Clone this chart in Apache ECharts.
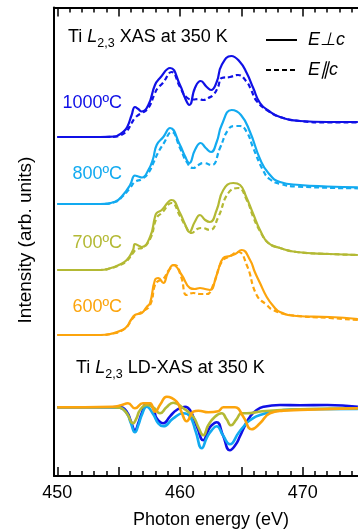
<!DOCTYPE html>
<html><head><meta charset="utf-8">
<script src="https://cdn.jsdelivr.net/npm/echarts@6/dist/echarts.min.js"></script>
<style>html,body{margin:0;padding:0;background:#fff}#c{width:358px;height:531px}</style>
</head><body><div id="c"></div>
<script>
// ---- data (photon energy in eV, intensity in arb. units relative to each pre-edge baseline) ----
const majorTicks = [450, 455, 460, 465, 470];
const tickLabels = [450, 460, 470];
const minorTicks = [450,451,452,453,454,455,456,457,458,459,460,461,462,463,464,465,466,467,468,469,470,471,472,473,474];
const temperatures = ['1000ºC', '800ºC', '700ºC', '600ºC'];
const colors = ['#1010e6', '#12aaf0', '#b3b934', '#fca40c'];
const offsets = [33.9, 27.2, 20.6, 14.1];
const ldOffset = 6.87;

const xas1000Perp = [[450,0],[453.5,0],[454.7,0.05],[455.0,0.2],[455.4,0.55],[455.7,1.0],[456.06,2.2],[456.33,3.0],[456.6,2.8],[456.88,2.55],[457.42,3.2],[457.96,5.2],[458.37,5.9],[459.19,6.9],[460.0,5.2],[460.41,3.9],[460.76,3.2],[461.22,4.9],[461.69,5.6],[462.18,5.0],[462.53,4.7],[462.99,5.5],[463.4,7.2],[464.18,8.1],[464.89,7.5],[465.44,6.4],[465.97,4.9],[466.52,3.4],[467.25,2.6],[468.15,2.0],[469.78,1.6],[472,1.5],[474.5,1.5]];
const xas1000Par = [[450,0],[453.5,0],[454.7,0.03],[455.1,0.15],[455.66,0.6],[456.06,1.4],[456.33,1.9],[456.6,2.2],[456.9,2.4],[457.42,2.9],[457.96,4.4],[458.2,4.9],[458.6,5.4],[459.32,6.5],[460.0,5.0],[460.55,3.95],[461.08,3.75],[461.5,3.8],[461.9,3.7],[462.3,3.9],[462.71,4.2],[463.1,5.0],[463.4,5.9],[464.07,6.0],[464.73,6.2],[465.44,5.5],[465.8,4.7],[466.25,3.6],[467.2,2.6],[468.15,2.0],[469.78,1.6],[472,1.45],[474.5,1.45]];
const xas800Perp = [[450,0],[453.5,0],[454.7,0.23],[455.35,0.9],[455.93,1.9],[456.33,2.85],[456.6,2.75],[456.9,2.65],[457.42,3.4],[457.8,4.5],[458.1,5.9],[458.64,6.7],[459.19,7.6],[460.0,5.9],[460.4,4.8],[460.76,4.1],[461.22,5.4],[461.69,6.1],[462.1,5.6],[462.53,5.2],[462.99,6.2],[463.4,7.9],[464.21,9.4],[464.97,8.9],[465.71,7.2],[466.52,4.5],[467.2,3.1],[468.15,2.2],[469.78,1.9],[472,1.75],[474.5,1.67]];
const xas800Par = [[450,0],[453.5,0],[454.7,0.2],[455.35,0.8],[455.93,1.6],[456.33,2.2],[456.9,2.5],[457.42,3.1],[457.9,4.3],[458.2,5.1],[458.64,6.0],[459.32,7.2],[460.0,5.6],[460.55,4.2],[461.08,3.6],[461.5,3.9],[461.9,4.1],[462.58,3.9],[463.26,5.6],[463.91,7.4],[464.4,7.8],[464.9,7.8],[465.44,7.2],[465.97,5.6],[466.76,3.4],[467.3,2.5],[468.2,2.0],[469.5,1.75],[474.5,1.57]];
const xas700Perp = [[450,0],[453.5,0],[454.3,0.17],[455.0,0.5],[455.66,1.0],[456.17,2.0],[456.33,2.6],[456.6,2.45],[456.88,2.3],[457.56,3.3],[457.96,5.3],[458.1,5.7],[458.51,6.0],[459.32,7.0],[460.0,5.7],[460.4,4.6],[460.76,3.8],[461.2,4.8],[461.63,5.5],[462.05,5.0],[462.44,4.8],[462.99,6.0],[463.53,8.0],[464.34,8.7],[464.9,8.5],[465.4,7.3],[465.97,5.6],[466.52,4.0],[467.2,2.7],[468.15,2.2],[469.51,1.8],[472.2,1.6],[474.5,1.5]];
const xas700Par = [[450,0],[453.5,0],[454.3,0.15],[455.0,0.45],[455.66,0.9],[456.17,1.7],[456.5,2.1],[456.9,2.2],[457.56,3.1],[458.1,5.2],[458.51,5.7],[459.32,6.7],[460.0,5.4],[460.5,4.3],[460.95,3.7],[461.4,4.1],[461.77,4.2],[462.44,4.0],[463.12,5.3],[463.94,7.7],[464.75,8.2],[465.44,7.0],[465.97,5.3],[466.52,3.9],[467.2,2.7],[468.15,2.2],[469.51,1.8],[472.2,1.6],[474.5,1.5]];
const xas600Perp = [[450,0],[453.5,0],[454.54,0.17],[455.2,0.45],[455.66,0.83],[456.0,1.5],[456.33,2.0],[456.88,2.2],[457.29,2.8],[457.56,3.2],[457.96,5.5],[458.23,5.7],[458.64,5.2],[459.0,6.2],[459.45,7.0],[460.14,6.0],[460.81,4.7],[461.2,4.6],[461.63,4.7],[462.05,4.6],[462.44,4.5],[462.99,6.0],[463.53,7.7],[464.07,7.9],[464.5,8.1],[465.03,8.5],[465.71,7.5],[466.1,6.3],[466.52,5.2],[467.07,3.8],[467.6,2.9],[468.15,2.3],[469.51,1.9],[472.2,1.8],[474.5,1.6]];
const xas600Par = [[450,0],[453.5,0],[454.54,0.15],[455.2,0.4],[455.66,0.8],[456.0,1.4],[456.33,1.9],[456.88,2.3],[457.56,3.0],[457.96,5.0],[458.23,5.4],[458.64,5.6],[459.1,6.5],[459.59,7.0],[460.1,5.8],[460.55,4.0],[461.08,4.2],[461.6,4.1],[462.18,4.1],[462.71,5.0],[463.4,7.3],[464.1,7.9],[464.75,8.3],[465.44,7.0],[466.25,4.0],[467.07,3.0],[467.58,2.5],[468.97,2.0],[472.2,1.7],[474.5,1.5]];

const ld1000 = [[450,0],[454.5,0],[455.11,0.03],[455.66,-0.44],[456.0,-1.4],[456.33,-2.3],[456.6,-1.6],[456.88,-0.6],[457.29,0.4],[457.82,-0.1],[458.1,-1.1],[458.64,-1.6],[459.19,-0.9],[459.73,-0.27],[460.41,0.06],[460.81,-0.27],[461.4,-2.0],[461.9,-3.3],[462.3,-2.3],[462.58,-1.8],[462.99,-1.5],[463.5,-2.8],[464.07,-4.3],[464.5,-3.8],[464.89,-2.9],[465.3,-1.8],[465.71,-0.94],[466.25,-0.27],[466.8,0.05],[468.15,0.23],[469.78,0.2],[472,0.23],[474.5,0.06]];
const ld800 = [[450,0],[454.5,0],[455.11,-0.05],[455.66,-0.6],[456.0,-1.6],[456.33,-2.5],[456.6,-1.8],[456.88,-0.8],[457.29,0.06],[457.82,-0.7],[458.23,-1.6],[458.64,-1.9],[459.45,-1.1],[460.27,-0.6],[460.81,-0.9],[461.3,-2.5],[461.77,-4.1],[462.2,-3.0],[462.58,-2.3],[462.99,-1.9],[463.5,-2.8],[464.07,-3.7],[464.75,-2.6],[465.2,-1.9],[465.71,-1.3],[466.52,-0.77],[468.42,-0.27],[469.78,-0.2],[474.5,-0.17]];
const ld700 = [[450,0],[454.5,0],[455.11,-0.05],[455.66,-0.6],[456.17,-1.6],[456.45,-1.1],[456.75,-0.27],[457.29,0.23],[457.82,0.0],[458.37,-0.6],[458.9,0.0],[459.45,0.46],[460.27,-0.1],[461.08,-0.94],[461.5,-2.0],[461.9,-2.8],[462.3,-1.8],[462.85,-0.94],[463.4,-0.6],[463.8,-1.2],[464.16,-1.8],[464.6,-1.2],[465.03,-0.6],[465.44,-0.6],[466.7,-0.4],[469.78,-0.2],[474.5,-0.1]];
const ld600 = [[450,0],[454.5,0.06],[455.2,0.2],[455.76,0.4],[456.33,-0.1],[456.98,0.4],[457.56,0.4],[457.96,-0.44],[458.4,0.3],[458.92,1.06],[459.73,0.56],[460.1,-0.4],[460.55,-1.4],[461.08,-0.44],[461.5,-0.34],[462.31,-0.5],[463.12,-0.4],[463.53,0.0],[464.48,0.0],[465.16,-0.94],[465.84,-2.2],[466.52,-1.6],[467.33,-0.6],[468.42,-0.34],[469.78,-0.27],[474.5,-0.1]];

const perpSets = [xas1000Perp, xas800Perp, xas700Perp, xas600Perp];
const parSets = [xas1000Par, xas800Par, xas700Par, xas600Par];
const ldSets = [ld1000, ld800, ld700, ld600];

// ---- chart ----
const FONT = '"Liberation Sans", Arial, Helvetica, sans-serif';
const X_MIN = 449.73, X_MAX = 474.51;
const shift = (arr, off) => arr.map(p => [p[0], p[1] + off]);
const SMOOTH = 0.5;

const series = [];
for (let i = 0; i < 4; i++) {
  series.push({ type: 'line', name: temperatures[i] + ' E⊥c', data: shift(perpSets[i], offsets[i]),
    showSymbol: false, symbol: 'none', smooth: SMOOTH,
    lineStyle: { color: colors[i], width: 2.2 }, z: 3 });
  series.push({ type: 'line', name: temperatures[i] + ' E∥c', data: shift(parSets[i], offsets[i]),
    showSymbol: false, symbol: 'none', smooth: SMOOTH,
    lineStyle: { color: colors[i], width: 2.2, type: [5, 3] }, z: 3 });
}
for (let i = 0; i < 4; i++) {
  series.push({ type: 'line', name: temperatures[i] + ' LD', data: shift(ldSets[i], ldOffset),
    showSymbol: false, symbol: 'none', smooth: SMOOTH,
    lineStyle: { color: colors[i], width: 2.6 }, z: 3 + i });
}

function xAx(pos, vals, len, line, labels) {
  return {
    type: 'value', position: pos, min: X_MIN, max: X_MAX, offset: 0,
    axisLine: { show: line, onZero: false, lineStyle: { color: '#000', width: 2 } },
    axisTick: { show: true, inside: true, length: len, customValues: vals, lineStyle: { color: '#000', width: 1.5 } },
    axisLabel: labels ? { show: true, customValues: tickLabels, fontSize: 18, color: '#000', fontFamily: FONT, margin: 8 } : { show: false },
    splitLine: { show: false }
  };
}

const titleRich = {
  i: { fontStyle: 'italic', fontSize: 18, fontFamily: FONT, fill: '#000' },
  s: { fontSize: 12.5, fontFamily: FONT, fill: '#000', verticalAlign: 'bottom', height: 12 }
};
function label(x, y, text, color, align) {
  return { type: 'text', x: x, y: y, z: 20, style: { text: text, fill: color, fontSize: 18, fontFamily: FONT, align: align || 'left', verticalAlign: 'middle' } };
}

const option = {
  animation: false,
  backgroundColor: '#fff',
  grid: { left: 54, right: 0, top: 7.5, bottom: 55, containLabel: false },
  xAxis: [
    xAx('bottom', majorTicks, 9, true, true),
    xAx('bottom', minorTicks, 5, false, false),
    xAx('top', majorTicks, 9, true, false),
    xAx('top', minorTicks, 5, false, false)
  ],
  yAxis: {
    type: 'value', min: 0, max: 46.85,
    axisLine: { show: true, onZero: false, lineStyle: { color: '#000', width: 2 } },
    axisTick: { show: false }, axisLabel: { show: false }, splitLine: { show: false }
  },
  series: series,
  graphic: [
    { type: 'text', x: 68, y: 24, z: 20, style: { text: 'Ti {i|L}{s|2,3} XAS at 350 K', rich: titleRich, fontSize: 18, fontFamily: FONT, fill: '#000', lineHeight: 26, verticalAlign: 'top' } },
    { type: 'text', x: 76, y: 355, z: 20, style: { text: 'Ti {i|L}{s|2,3} LD-XAS at 350 K', rich: titleRich, fontSize: 18, fontFamily: FONT, fill: '#000', lineHeight: 26, verticalAlign: 'top' } },
    { type: 'line', z: 20, shape: { x1: 266, y1: 40, x2: 297, y2: 40 }, style: { stroke: '#000', lineWidth: 2 } },
    { type: 'line', z: 20, shape: { x1: 266, y1: 70, x2: 297, y2: 70 }, style: { stroke: '#000', lineWidth: 2, lineDash: [5, 3] } },
    { type: 'text', x: 308, y: 40, z: 20, style: { text: 'E⊥c', fill: '#000', fontSize: 18, fontStyle: 'italic', fontFamily: FONT, verticalAlign: 'middle' } },
    { type: 'text', x: 308, y: 70, z: 20, style: { text: 'E∥c', fill: '#000', fontSize: 18, fontStyle: 'italic', fontFamily: FONT, verticalAlign: 'middle' } },
    label(122, 103.5, temperatures[0], colors[0], 'right'),
    label(122, 174, temperatures[1], colors[1], 'right'),
    label(122, 243.5, temperatures[2], colors[2], 'right'),
    label(122, 307, temperatures[3], colors[3], 'right'),
    { type: 'text', x: 211, y: 520, z: 20, style: { text: 'Photon energy (eV)', fill: '#000', fontSize: 18, fontFamily: FONT, align: 'center', verticalAlign: 'middle' } },
    { type: 'text', x: 26, y: 240, rotation: Math.PI / 2, z: 20, style: { text: 'Intensity (arb. units)', fill: '#000', fontSize: 19, fontFamily: FONT, align: 'center', verticalAlign: 'middle' } }
  ]
};
const chart = echarts.init(document.getElementById('c'), null, { renderer: 'canvas' });
chart.setOption(option);
</script></body></html>
